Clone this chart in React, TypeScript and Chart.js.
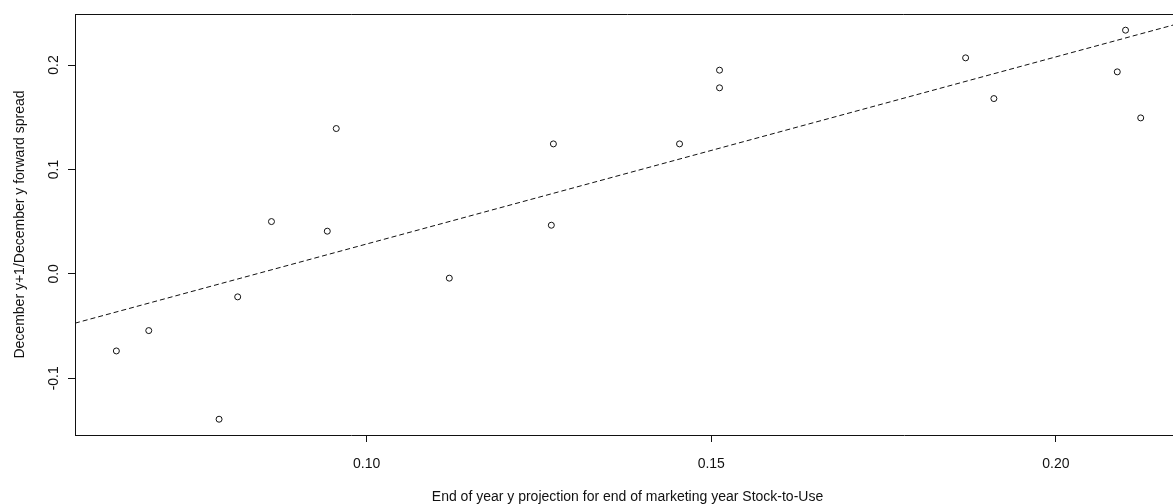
import React, { useEffect, useRef } from "react";
import { Chart, registerables } from "chart.js";

Chart.register(...registerables);

// Observed pairs: stock-to-use projection (x) vs. forward spread (y)
const stockToUse = [
  0.0637, 0.0684, 0.0786, 0.0813, 0.0862, 0.0943, 0.0956, 0.112,
  0.1268, 0.1271, 0.1454, 0.1512, 0.1512, 0.1869, 0.191, 0.2089,
  0.2101, 0.2123,
];
const forwardSpread = [
  -0.0738, -0.0543, -0.1392, -0.022, 0.0501, 0.0409, 0.1392, -0.0041,
  0.0466, 0.1245, 0.1245, 0.1782, 0.1951, 0.2069, 0.1679, 0.1935,
  0.2334, 0.1494,
];

// Least-squares fit line, sampled at the two ends of the x range
const fitX = [0.0577, 0.218];
const fitY = [-0.0472, 0.2401];

const xTicks = [0.1, 0.15, 0.2];
const yTicks = [-0.1, 0.0, 0.1, 0.2];

const xTitle = "End of year y projection for end of marketing year Stock-to-Use";
const yTitle = "December y+1/December y forward spread";

const FONT = '14px "Liberation Sans", Arial, sans-serif';
const INK = "#111";

const framePlugin = {
  id: "rFrame",
  afterDraw(chart: any) {
    const { ctx, chartArea, scales } = chart;
    const xs = scales.x;
    const ys = scales.y;
    ctx.save();
    // top edge of the plot box
    ctx.strokeStyle = INK;
    ctx.lineWidth = 1;
    ctx.beginPath();
    ctx.moveTo(chartArea.left, Math.round(chartArea.top) + 0.5);
    ctx.lineTo(chartArea.right, Math.round(chartArea.top) + 0.5);
    ctx.stroke();

    ctx.fillStyle = INK;
    ctx.font = FONT;

    // x tick labels
    ctx.textAlign = "center";
    ctx.textBaseline = "alphabetic";
    xTicks.forEach((v) => {
      ctx.fillText(v.toFixed(2), xs.getPixelForValue(v), 468);
    });

    // y tick labels, rotated
    yTicks.forEach((v) => {
      ctx.save();
      ctx.translate(58, ys.getPixelForValue(v));
      ctx.rotate(-Math.PI / 2);
      ctx.textAlign = "center";
      ctx.textBaseline = "alphabetic";
      ctx.fillText(v.toFixed(1), 0, 0);
      ctx.restore();
    });

    // axis titles
    ctx.textAlign = "center";
    ctx.fillText(xTitle, (chartArea.left + chartArea.right) / 2, 501);
    ctx.save();
    ctx.translate(24, (chartArea.top + chartArea.bottom) / 2);
    ctx.rotate(-Math.PI / 2);
    ctx.fillText(yTitle, 0, 0);
    ctx.restore();
    ctx.restore();
  },
};

export default function App() {
  const canvasRef = useRef<HTMLCanvasElement | null>(null);

  useEffect(() => {
    const canvas = canvasRef.current;
    if (!canvas) return;
    const chart = new Chart(canvas, {
      type: "scatter",
      data: {
        datasets: [
          {
            type: "line",
            data: fitX.map((x, i) => ({ x, y: fitY[i] })),
            borderColor: INK,
            borderWidth: 1,
            borderDash: [5, 3],
            pointRadius: 0,
            fill: false,
          } as any,
          {
            data: stockToUse.map((x, i) => ({ x, y: forwardSpread[i] })),
            pointRadius: 3,
            pointHoverRadius: 3,
            pointBorderWidth: 1,
            pointBorderColor: INK,
            pointBackgroundColor: "rgba(0,0,0,0)",
            showLine: false,
          },
        ],
      },
      options: {
        responsive: false,
        animation: false,
        events: [],
        layout: {
          autoPadding: false,
          padding: { left: 0, top: 14, right: 0, bottom: 0 },
        },
        plugins: {
          legend: { display: false },
          tooltip: { enabled: false },
        },
        scales: {
          x: {
            type: "linear",
            min: 0.0577,
            max: 0.218,
            afterBuildTicks: (s: any) => {
              s.ticks = xTicks.map((v) => ({ value: v }));
            },
            afterFit: (s: any) => {
              s.height = 69;
            },
            ticks: { display: false },
            grid: {
              display: true,
              drawOnChartArea: false,
              drawTicks: true,
              tickLength: 7,
              color: INK,
            },
            border: { display: true, color: INK, width: 1 },
          },
          y: {
            type: "linear",
            min: -0.1543,
            max: 0.2489,
            afterBuildTicks: (s: any) => {
              s.ticks = yTicks.map((v) => ({ value: v }));
            },
            afterFit: (s: any) => {
              s.width = 75;
            },
            ticks: { display: false },
            grid: {
              display: true,
              drawOnChartArea: false,
              drawTicks: true,
              tickLength: 7,
              color: INK,
            },
            border: { display: true, color: INK, width: 1 },
          },
        },
      },
      plugins: [framePlugin],
    });
    return () => chart.destroy();
  }, []);

  return (
    <div
      style={{
        position: "fixed",
        left: 0,
        top: 0,
        width: 1173,
        height: 504,
        overflow: "hidden",
        background: "#fff",
      }}
    >
      <canvas ref={canvasRef} width={1180} height={504} />
    </div>
  );
}
